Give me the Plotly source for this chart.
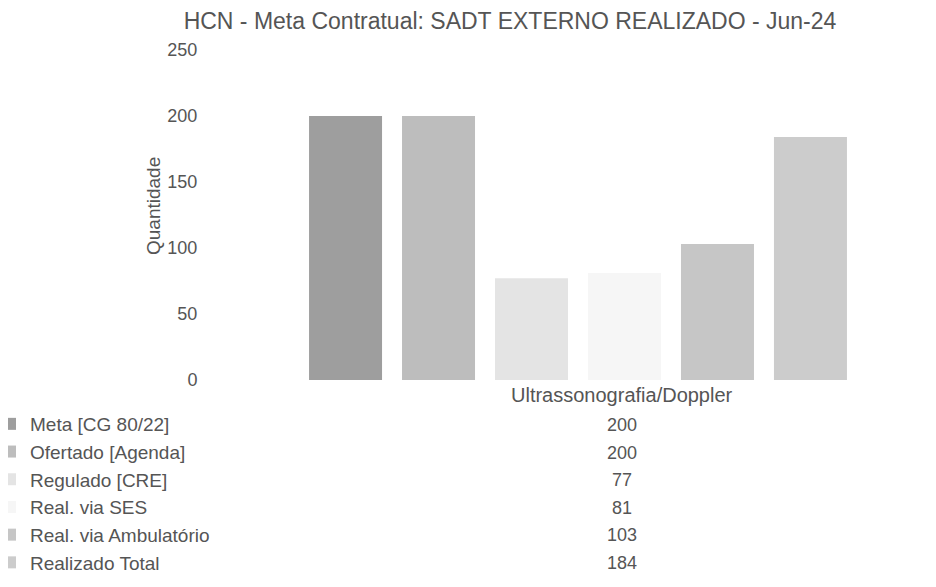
import plotly.graph_objects as go

title_text = "HCN - Meta Contratual: SADT EXTERNO REALIZADO - Jun-24"
y_title = "Quantidade"
category = "Ultrassonografia/Doppler"
series_names = ["Meta [CG 80/22]", "Ofertado [Agenda]", "Regulado [CRE]",
                "Real. via SES", "Real. via Ambulatório", "Realizado Total"]
series_values = [200, 200, 77, 81, 103, 184]
series_colors = ["#9e9e9e", "#bdbdbd", "#e4e4e4", "#f6f6f6", "#c6c6c6", "#cccccc"]
y_ticks = [0, 50, 100, 150, 200, 250]

# page body adds an 8px offset; figure coordinates = reference - 8
OFF = 8
W, H = 920, 571
ML, MR, MT, MB = 220, 0, 42, 199
plot_h = H - MT - MB
plot_w = W - ML - MR
txt = "#555555"
font = "Liberation Sans, Arial, sans-serif"

fig = go.Figure()
for i, (name, val, col) in enumerate(zip(series_names, series_values, series_colors)):
    fig.add_trace(go.Bar(
        x=[category], y=[val], name=name,
        marker=dict(color=col, line=dict(width=0)),
        legendgroup=f"g{i}",
    ))

def py(ref_y):
    return (MT + plot_h - (ref_y - OFF)) / plot_h

def px(ref_x):
    return ((ref_x - OFF) - ML) / plot_w

row0, pitch = 425, 27.6
table_cx = 622
ann = [dict(text=category, x=px(table_cx), y=py(395),
            xref="paper", yref="paper", showarrow=False, xanchor="center", yanchor="middle",
            font=dict(size=20, color=txt, family=font)),
       dict(text=y_title, x=px(153), y=py(206), textangle=-90,
            xref="paper", yref="paper", showarrow=False, xanchor="center", yanchor="middle",
            font=dict(size=19, color=txt, family=font))]
for i, val in enumerate(series_values):
    ann.append(dict(text=str(val), x=px(table_cx), y=py(row0 + i * pitch),
                    xref="paper", yref="paper", showarrow=False, xanchor="center", yanchor="middle",
                    font=dict(size=18, color=txt, family=font)))

fig.update_layout(
    width=W, height=H,
    margin=dict(l=ML, r=MR, t=MT, b=MB, autoexpand=False),
    paper_bgcolor="white", plot_bgcolor="white",
    title=dict(text=title_text, x=(510 - OFF) / W, xref="container", xanchor="center",
               y=1 - (21 - OFF) / H, yref="container", yanchor="middle",
               font=dict(size=23, color=txt, family=font)),
    barmode="group", bargap=0.203, bargroupgap=0.215,
    showlegend=True,
    legend=dict(xref="paper", yref="paper", x=px(-10), y=py(405),
                xanchor="left", yanchor="top", tracegroupgap=2,
                font=dict(size=19, color=txt, family=font),
                itemwidth=30, bgcolor="rgba(0,0,0,0)", traceorder="normal"),
    annotations=ann,
    font=dict(family=font, color=txt),
)
fig.update_xaxes(showticklabels=False, showline=False, showgrid=False, zeroline=False, ticks="")
fig.update_yaxes(range=[0, 250], tickvals=y_ticks, showline=False, showgrid=False, zeroline=False,
                 ticks="outside", ticklen=0, ticklabelstandoff=26,
                 tickfont=dict(size=18, color=txt, family=font))

fig.write_html("out.html")
